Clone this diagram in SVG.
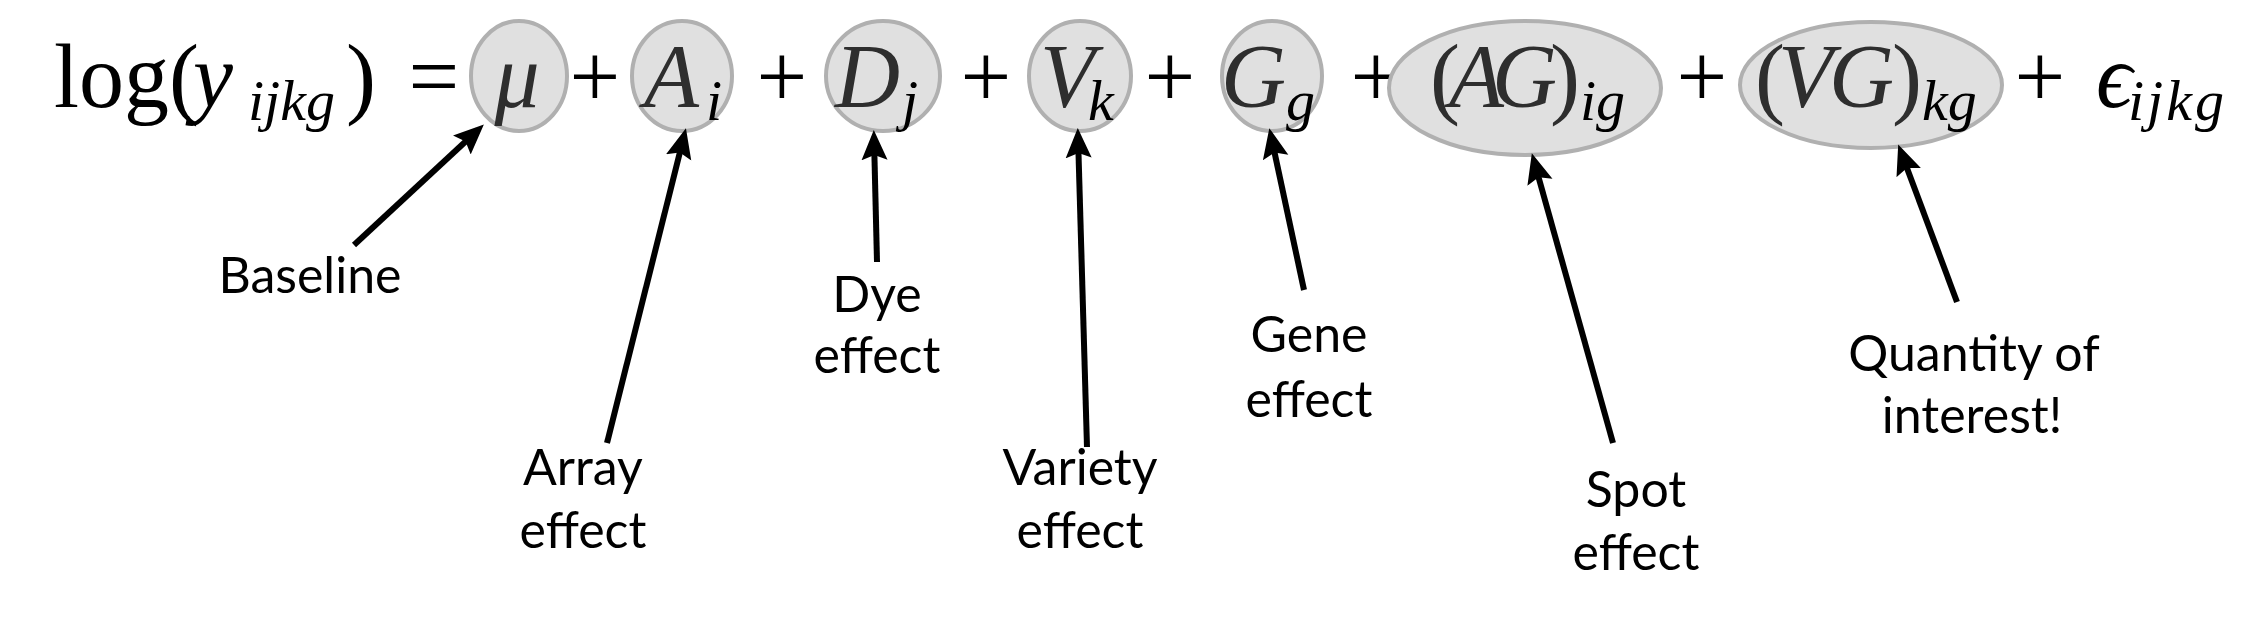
<svg xmlns="http://www.w3.org/2000/svg" width="2248" height="638" viewBox="0 0 2248 638">
<style>
.bg{fill:#ffffff}
.ell{fill:#e0e0e0;stroke:#b0b0b0;stroke-width:4}
.m{font-family:"Liberation Serif","DejaVu Serif",serif;font-size:90px;fill:#000}
.mi{font-family:"Liberation Serif","DejaVu Serif",serif;font-size:90px;font-style:italic;fill:#2e2e2e}
.sub{font-family:"Liberation Serif","DejaVu Serif",serif;font-size:58px;font-style:italic;fill:#000}
.op{font-family:"Liberation Serif","DejaVu Serif",serif;font-size:90px;fill:#000;text-anchor:middle}
.lbl{font-family:Lato,"Liberation Sans",sans-serif;font-size:50px;fill:#000;text-anchor:middle}
.arr{fill:none;stroke:#000;stroke-width:6;marker-end:url(#ah)}
</style>
<defs>
<marker id="ah" markerUnits="userSpaceOnUse" markerWidth="40" markerHeight="40" refX="22" refY="14" orient="auto">
<path d="M0,1 L30,14 L0,27 L5,14 z" fill="#000"/>
</marker>
</defs>
<rect class="bg" x="0" y="0" width="2248" height="638"/>

<g id="lhs">
<text class="m" x="54" y="107">log(</text>
<text class="mi" x="193" y="107" style="fill:#000">y</text>
<text class="sub" x="248" y="120">ijkg</text>
<text class="m" x="346" y="107">)</text>
<text class="op" x="434" y="107">=</text>
</g>

<g id="node-mu">
<ellipse class="ell" cx="519" cy="76" rx="48" ry="55"/>
<text class="mi" x="517" y="107" text-anchor="middle">μ</text>
</g>
<text class="op" x="595" y="107">+</text>
<g id="node-A">
<ellipse class="ell" cx="682" cy="76" rx="50" ry="55"/>
<text class="mi" x="644" y="107">A</text>
<text class="sub" x="706" y="120">i</text>
</g>
<text class="op" x="782" y="107">+</text>
<g id="node-D">
<ellipse class="ell" cx="883" cy="76" rx="57" ry="55"/>
<text class="mi" x="835" y="107">D</text>
<text class="sub" x="902" y="120">j</text>
</g>
<text class="op" x="986" y="107">+</text>
<g id="node-V">
<ellipse class="ell" cx="1080" cy="76" rx="51" ry="55"/>
<text class="mi" x="1040" y="107">V</text>
<text class="sub" x="1088" y="120">k</text>
</g>
<text class="op" x="1170" y="107">+</text>
<g id="node-G">
<ellipse class="ell" cx="1272" cy="76" rx="50" ry="55"/>
<text class="mi" x="1221" y="107">G</text>
<text class="sub" x="1286" y="120">g</text>
</g>
<text class="op" x="1376" y="107">+</text>
<g id="node-AG">
<ellipse class="ell" cx="1525" cy="88" rx="136" ry="67"/>
<text class="mi" x="1430" y="107" style="font-style:normal">(</text>
<text class="mi" x="1449" y="107">A</text>
<text class="mi" x="1492" y="107">G</text>
<text class="mi" x="1550" y="107" style="font-style:normal">)</text>
<text class="sub" x="1580" y="120">ig</text>
</g>
<text class="op" x="1702" y="107">+</text>
<g id="node-VG">
<ellipse class="ell" cx="1871" cy="85" rx="131" ry="63"/>
<text class="mi" x="1755" y="107" style="font-style:normal">(</text>
<text class="mi" x="1778" y="107">V</text>
<text class="mi" x="1829" y="107">G</text>
<text class="mi" x="1892" y="107" style="font-style:normal">)</text>
<text class="sub" x="1922" y="120">kg</text>
</g>
<text class="op" x="2040" y="107">+</text>
<g id="error">
<text class="mi" x="2096" y="107" style="fill:#000">ϵ</text>
<text class="sub" x="2128" y="120" letter-spacing="3">ijkg</text>
</g>

<g id="labels">
<g id="lbl-baseline"><text class="lbl" x="310" y="293">Baseline</text></g>
<g id="lbl-array"><text class="lbl" x="583" y="485">Array</text><text class="lbl" x="583" y="548">effect</text></g>
<g id="lbl-dye"><text class="lbl" x="877" y="312">Dye</text><text class="lbl" x="877" y="373">effect</text></g>
<g id="lbl-variety"><text class="lbl" x="1080" y="485">Variety</text><text class="lbl" x="1080" y="548">effect</text></g>
<g id="lbl-gene"><text class="lbl" x="1309" y="352">Gene</text><text class="lbl" x="1309" y="417">effect</text></g>
<g id="lbl-spot"><text class="lbl" x="1636" y="507">Spot</text><text class="lbl" x="1636" y="570">effect</text></g>
<g id="lbl-quantity"><text class="lbl" x="1974" y="371">Quantity of</text><text class="lbl" x="1972" y="433">interest!</text></g>
</g>

<g id="connectors">
<line class="arr" x1="354" y1="245" x2="478" y2="130"/>
<line class="arr" x1="607" y1="443" x2="684" y2="136"/>
<line class="arr" x1="877" y1="262" x2="874" y2="138"/>
<line class="arr" x1="1087" y1="447" x2="1078" y2="136"/>
<line class="arr" x1="1304" y1="290" x2="1271" y2="136"/>
<line class="arr" x1="1613" y1="443" x2="1534" y2="161"/>
<line class="arr" x1="1957" y1="302" x2="1901" y2="152"/>
</g>
</svg>
